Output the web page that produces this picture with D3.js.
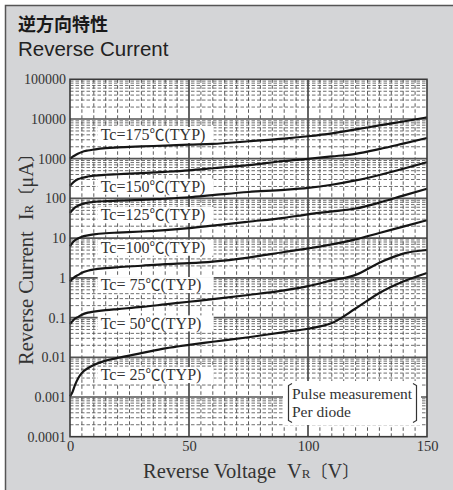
<!DOCTYPE html>
<html>
<head>
<meta charset="utf-8">
<script src="https://cdn.jsdelivr.net/npm/d3@7"></script>
<style>
    html, body { margin: 0; padding: 0; background: #fff; }
    svg { display: block; }
    .serif { font-family: "Liberation Serif", "DejaVu Serif", "Noto Sans CJK JP", serif; }
    .cjk { font-family: "Noto Sans CJK JP", sans-serif; }
</style>
</head>
<body>
<svg id="chart" width="453" height="490"></svg>
<script>
// Reverse current IR [uA] vs reverse voltage VR [V], one series per case temperature
const voltages = [0, 1, 2, 3.5, 5, 7.5, 10, 15, 20, 30, 40, 50, 60, 75, 90, 100, 110, 120, 130, 140, 150];

const ir175 = [1000, 1110, 1210, 1350, 1480, 1610, 1700, 1850, 1930, 2040, 2140, 2260, 2360, 2750, 3190, 3680, 4370, 5460, 6900, 8670, 11000];
const ir150 = [208, 242, 272, 307, 330, 356, 374, 395, 407, 432, 467, 511, 575, 690, 877, 990, 1140, 1330, 1750, 2400, 3320];
const ir125 = [43.2, 51.2, 59, 66.1, 71.9, 78.3, 81.5, 85.3, 87.7, 91.8, 98.3, 107, 121, 145, 164, 184, 221, 284, 390, 559, 815];
const ir100 = [6.18, 7.59, 8.79, 9.88, 10.8, 11.7, 12.4, 13.3, 13.8, 14.7, 16.0, 17.9, 20.7, 25.9, 32.5, 39.7, 47, 55.7, 78.3, 118, 176];
const ir75 = [0.809, 0.941, 1.06, 1.19, 1.34, 1.51, 1.62, 1.75, 1.85, 2.02, 2.21, 2.34, 2.56, 3.24, 4.47, 5.50, 6.95, 9.31, 13.5, 19.5, 28.3];
const ir50 = [0.0689, 0.0812, 0.0932, 0.104, 0.118, 0.133, 0.141, 0.154, 0.164, 0.185, 0.215, 0.250, 0.290, 0.370, 0.485, 0.618, 0.861, 1.19, 2.41, 4.09, 5.03];
const ir25 = [0.00104, 0.00132, 0.00194, 0.00301, 0.00405, 0.00529, 0.00638, 0.00823, 0.00966, 0.0127, 0.0168, 0.0206, 0.0246, 0.0320, 0.0432, 0.0524, 0.0728, 0.169, 0.417, 0.809, 1.33];

const seriesValues = [ir175, ir150, ir125, ir100, ir75, ir50, ir25];
const curveLabels = ["Tc=175℃(TYP)", "Tc=150℃(TYP)", "Tc=125℃(TYP)", "Tc=100℃(TYP)", "Tc= 75℃(TYP)", "Tc= 50℃(TYP)", "Tc= 25℃(TYP)"];
// where each label sits (voltage, current) in data units
const labelVoltage = 12.9;
const labelCurrents = [3950, 197, 38.2, 5.73, 0.659, 0.0714, 0.00357];

const yTicks = [1e-4, 1e-3, 1e-2, 1e-1, 1, 10, 100, 1000, 10000, 100000];
const yTickLabels = ["0.0001", "0.001", "0.01", "0.1", "1", "10", "100", "1000", "10000", "100000"];
const xTicks = [0, 50, 100, 150];
const noteLines = ["Pulse measurement", "Per diode"];

const PLOT = { left: 70, right: 427, top: 79.3, bottom: 436.7 };
const GRID_COLOR = "#4a4a4a";

const svg = d3.select("#chart");

// ─── FRAME ───
svg.append("rect")
    .attr("x", 5.5).attr("y", 5.5)
    .attr("width", 470).attr("height", 500)
    .attr("fill", "#d4d5d7")
    .attr("stroke", "#555").attr("stroke-width", 1.5);

svg.append("text")
    .attr("class", "cjk")
    .attr("x", 18).attr("y", 31)
    .attr("font-weight", "bold").attr("font-size", 18)
    .attr("fill", "#1a1a1a")
    .text("逆方向特性");

svg.append("text")
    .attr("x", 18).attr("y", 56)
    .attr("font-family", "'Liberation Sans', Arial, sans-serif")
    .attr("font-size", 20.5)
    .attr("fill", "#222")
    .text("Reverse Current");

const x = d3.scaleLinear().domain([0, 150]).range([PLOT.left, PLOT.right]);
const y = d3.scaleLog().domain([1e-4, 1e5]).range([PLOT.bottom, PLOT.top]);

svg.append("rect")
    .attr("x", PLOT.left).attr("y", PLOT.top)
    .attr("width", PLOT.right - PLOT.left).attr("height", PLOT.bottom - PLOT.top)
    .attr("fill", "#fff");

const grid = svg.append("g");

// vertical grid every 5 V, solid at 50 / 100
const vLines = d3.range(5, 150, 5);
grid.selectAll("line.v")
    .data(vLines)
    .join("line")
    .attr("class", "v")
    .attr("x1", d => x(d)).attr("x2", d => x(d))
    .attr("y1", PLOT.top).attr("y2", PLOT.bottom)
    .attr("stroke", d => d % 50 === 0 ? "#555" : GRID_COLOR)
    .attr("stroke-width", d => d % 50 === 0 ? 1.8 : 0.9)
    .attr("stroke-dasharray", d => d % 50 === 0 ? null : "3.5,2.5");

// log minor lines 2..9 in every decade
const minorValues = [];
for (let k = -4; k < 5; k++) {
    for (let m = 2; m <= 9; m++) minorValues.push(m * Math.pow(10, k));
}
grid.selectAll("line.hm")
    .data(minorValues)
    .join("line")
    .attr("class", "hm")
    .attr("x1", PLOT.left).attr("x2", PLOT.right)
    .attr("y1", d => y(d)).attr("y2", d => y(d))
    .attr("stroke", GRID_COLOR)
    .attr("stroke-width", 0.8)
    .attr("stroke-dasharray", "3.5,2");

grid.selectAll("line.hd")
    .data(yTicks.slice(1, -1))
    .join("line")
    .attr("class", "hd")
    .attr("x1", PLOT.left).attr("x2", PLOT.right)
    .attr("y1", d => y(d)).attr("y2", d => y(d))
    .attr("stroke", "#555")
    .attr("stroke-width", 1.7);

// white boxes behind the labels hide the grid
const labelG = svg.append("g").attr("class", "serif");
labelG.selectAll("rect")
    .data(labelCurrents)
    .join("rect")
    .attr("x", x(labelVoltage) - 3)
    .attr("y", d => y(d) - 8)
    .attr("width", 116)
    .attr("height", 16)
    .attr("fill", "#fff");

// note box
const note = svg.append("g").attr("class", "serif");
note.append("rect")
    .attr("x", 283).attr("y", 381)
    .attr("width", 138).attr("height", 44)
    .attr("fill", "#fff");
note.append("path")
    .attr("d", "M292,383.5 L288.5,385.5 L288.5,420.5 L292,422.5 M413,383.5 L416.5,385.5 L416.5,420.5 L413,422.5")
    .attr("fill", "none")
    .attr("stroke", "#333")
    .attr("stroke-width", 1.2);
note.selectAll("text")
    .data(noteLines)
    .join("text")
    .attr("x", 292)
    .attr("y", (d, i) => 399 + i * 18)
    .attr("font-size", 15.5)
    .attr("fill", "#333")
    .text(d => d);

// ─── CURVES ───
const line = d3.line()
    .x((d, i) => x(voltages[i]))
    .y(d => y(d))
    .curve(d3.curveMonotoneX);

svg.append("g").selectAll("path")
    .data(seriesValues)
    .join("path")
    .attr("d", d => line(d))
    .attr("fill", "none")
    .attr("stroke", "#151515")
    .attr("stroke-width", 2.2);

labelG.selectAll("text")
    .data(curveLabels)
    .join("text")
    .attr("x", x(labelVoltage))
    .attr("y", (d, i) => y(labelCurrents[i]) + 5.3)
    .attr("font-size", 16)
    .attr("fill", "#333")
    .each(function(d) {
        const parts = d.split("℃");
        const t = d3.select(this);
        t.append("tspan").text(parts[0]);
        t.append("tspan").attr("class", "cjk").attr("font-size", 15).text("℃");
        t.append("tspan").text(parts[1]);
    });

// plot border
svg.append("rect")
    .attr("x", PLOT.left).attr("y", PLOT.top)
    .attr("width", PLOT.right - PLOT.left).attr("height", PLOT.bottom - PLOT.top)
    .attr("fill", "none")
    .attr("stroke", "#3a3a3a")
    .attr("stroke-width", 1.6);

// ─── AXES ───
const yAxis = d3.axisLeft(y)
    .tickValues(yTicks)
    .tickFormat((d, i) => yTickLabels[i])
    .tickSize(0)
    .tickPadding(4);

svg.append("g")
    .attr("class", "serif")
    .attr("transform", `translate(${PLOT.left},0)`)
    .call(yAxis)
    .call(g => g.select(".domain").remove())
    .selectAll("text")
    .attr("font-size", 14)
    .attr("fill", "#333");

const xAxis = d3.axisBottom(x)
    .tickValues(xTicks)
    .tickSize(0)
    .tickPadding(4);

svg.append("g")
    .attr("class", "serif")
    .attr("transform", `translate(0,${PLOT.bottom})`)
    .call(xAxis)
    .call(g => g.select(".domain").remove())
    .selectAll("text")
    .attr("font-size", 14.5)
    .attr("fill", "#333");

// d3 axes set a sans-serif family on the group; let the css class win
svg.selectAll(".serif").attr("font-family", null);

// ─── AXIS TITLES ───
const xTitle = svg.append("text")
    .attr("class", "serif")
    .attr("x", 143).attr("y", 478)
    .attr("font-size", 20.5)
    .attr("fill", "#333");
xTitle.append("tspan").text("Reverse Voltage");
xTitle.append("tspan").attr("dx", 11).text("V");
xTitle.append("tspan").attr("font-size", 13).text("R");
xTitle.append("tspan").attr("class", "cjk").attr("font-size", 17).text("〔");
xTitle.append("tspan").text("V");
xTitle.append("tspan").attr("class", "cjk").attr("font-size", 17).text("〕");

const yTitle = svg.append("text")
    .attr("class", "serif")
    .attr("transform", "translate(33,365) rotate(-90)")
    .attr("font-size", 20.5)
    .attr("fill", "#333");
yTitle.append("tspan").text("Reverse Current");
yTitle.append("tspan").attr("dx", 11).text("I");
yTitle.append("tspan").attr("font-size", 13).text("R");
yTitle.append("tspan").attr("class", "cjk").attr("font-size", 17).text("〔");
yTitle.append("tspan").text("μA");
yTitle.append("tspan").attr("class", "cjk").attr("font-size", 17).text("〕");
</script>
</body>
</html>
